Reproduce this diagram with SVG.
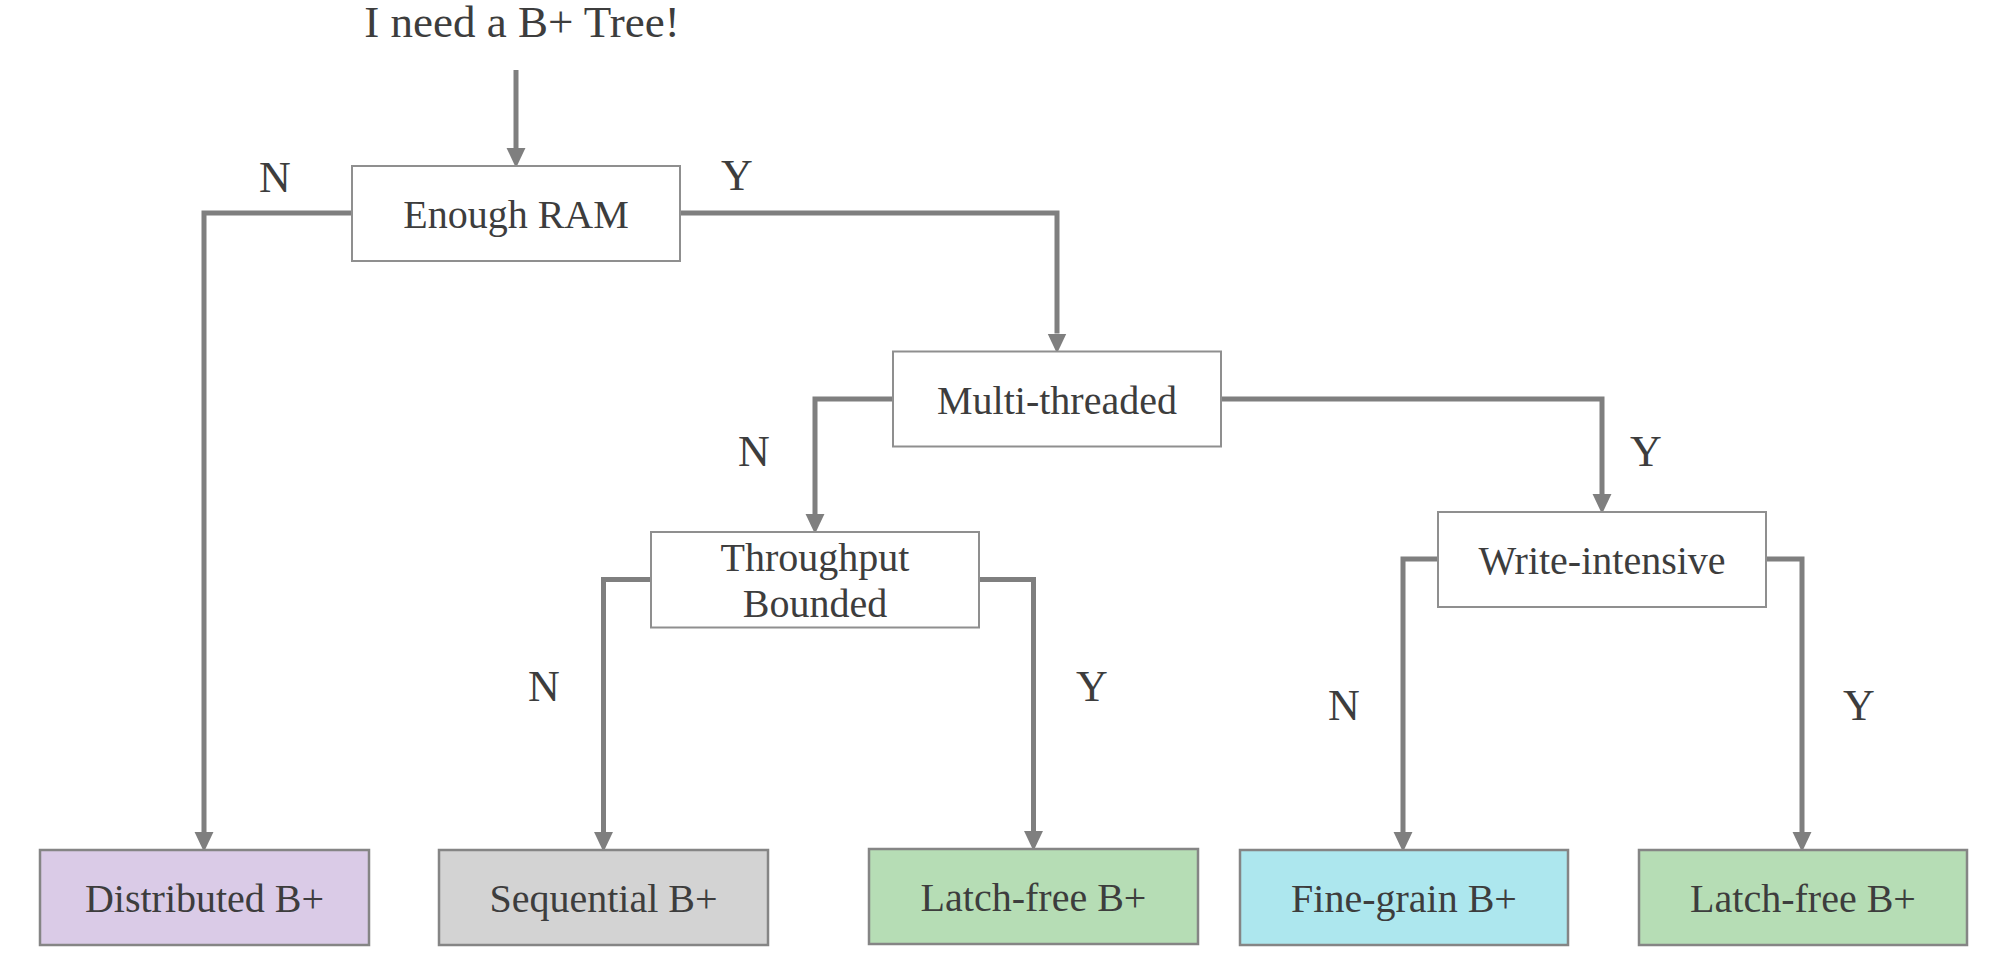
<svg xmlns="http://www.w3.org/2000/svg" width="2008" height="967" viewBox="0 0 2008 967">
  <style>
    .box { fill: #ffffff; stroke: #8f8f8f; stroke-width: 2; }
    .leaf { stroke: #858585; stroke-width: 2.5; }
    .t { font-family: "Liberation Serif", "Times New Roman", serif; font-size: 40px; fill: #3d3d3d; text-anchor: middle; }
    .lbl { font-family: "Liberation Serif", "Times New Roman", serif; font-size: 44px; fill: #3d3d3d; text-anchor: middle; }
    .title { font-family: "Liberation Serif", "Times New Roman", serif; font-size: 45px; fill: #3d3d3d; text-anchor: middle; }
    .conn { fill: none; stroke: #7f7f7f; stroke-width: 5; stroke-linejoin: miter; marker-end: url(#arr); }
  </style>
  <defs>
    <marker id="arr" markerUnits="userSpaceOnUse" markerWidth="20" markerHeight="20" refX="0" refY="8.5" orient="auto" viewBox="0 0 18 17">
      <path d="M0,0 L18,8.5 L0,17 Z" fill="#7f7f7f"/>
    </marker>
  </defs>

  <rect width="2008" height="967" fill="#ffffff"/>

  <g id="title">
    <text class="title" x="522" y="37">I need a B+ Tree!</text>
  </g>

  <g id="connectors">
    <path class="conn" d="M516,70 V148"/>
    <path class="conn" d="M352,213 H204 V832"/>
    <path class="conn" d="M680,213 H1057 V333.5"/>
    <path class="conn" d="M893,399 H815 V514"/>
    <path class="conn" d="M1221,399 H1602 V494"/>
    <path class="conn" d="M651,579.5 H603.5 V832"/>
    <path class="conn" d="M979,579.5 H1033.5 V831"/>
    <path class="conn" d="M1438,559 H1403 V832"/>
    <path class="conn" d="M1766,559 H1802 V832"/>
  </g>

  <g id="labels">
    <text class="lbl" x="275" y="192">N</text>
    <text class="lbl" x="737" y="190">Y</text>
    <text class="lbl" x="754" y="466">N</text>
    <text class="lbl" x="1646" y="466">Y</text>
    <text class="lbl" x="544" y="701">N</text>
    <text class="lbl" x="1092" y="701">Y</text>
    <text class="lbl" x="1344" y="720">N</text>
    <text class="lbl" x="1859" y="720">Y</text>
  </g>

  <g id="enough-ram">
    <rect class="box" x="352" y="166" width="328" height="95"/>
    <text class="t" x="516" y="228">Enough RAM</text>
  </g>
  <g id="multi-threaded">
    <rect class="box" x="893" y="351.5" width="328" height="95"/>
    <text class="t" x="1057" y="413.5">Multi-threaded</text>
  </g>
  <g id="throughput-bounded">
    <rect class="box" x="651" y="532" width="328" height="95.5"/>
    <text class="t" x="815" y="570.5">Throughput</text>
    <text class="t" x="815" y="617">Bounded</text>
  </g>
  <g id="write-intensive">
    <rect class="box" x="1438" y="512" width="328" height="95"/>
    <text class="t" x="1602" y="574">Write-intensive</text>
  </g>

  <g id="distributed">
    <rect class="leaf" x="40" y="850" width="329" height="95" fill="#dacbe7"/>
    <text class="t" x="204.5" y="911.5">Distributed B+</text>
  </g>
  <g id="sequential">
    <rect class="leaf" x="439" y="850" width="329" height="95" fill="#d3d3d3"/>
    <text class="t" x="603.5" y="911.5">Sequential B+</text>
  </g>
  <g id="latch-free-1">
    <rect class="leaf" x="869" y="849" width="329" height="95" fill="#b6ddb5"/>
    <text class="t" x="1033.5" y="910.5">Latch-free B+</text>
  </g>
  <g id="fine-grain">
    <rect class="leaf" x="1240" y="850" width="328" height="95" fill="#ade7ee"/>
    <text class="t" x="1404" y="911.5">Fine-grain B+</text>
  </g>
  <g id="latch-free-2">
    <rect class="leaf" x="1639" y="850" width="328" height="95" fill="#b6ddb5"/>
    <text class="t" x="1803" y="911.5">Latch-free B+</text>
  </g>
</svg>
